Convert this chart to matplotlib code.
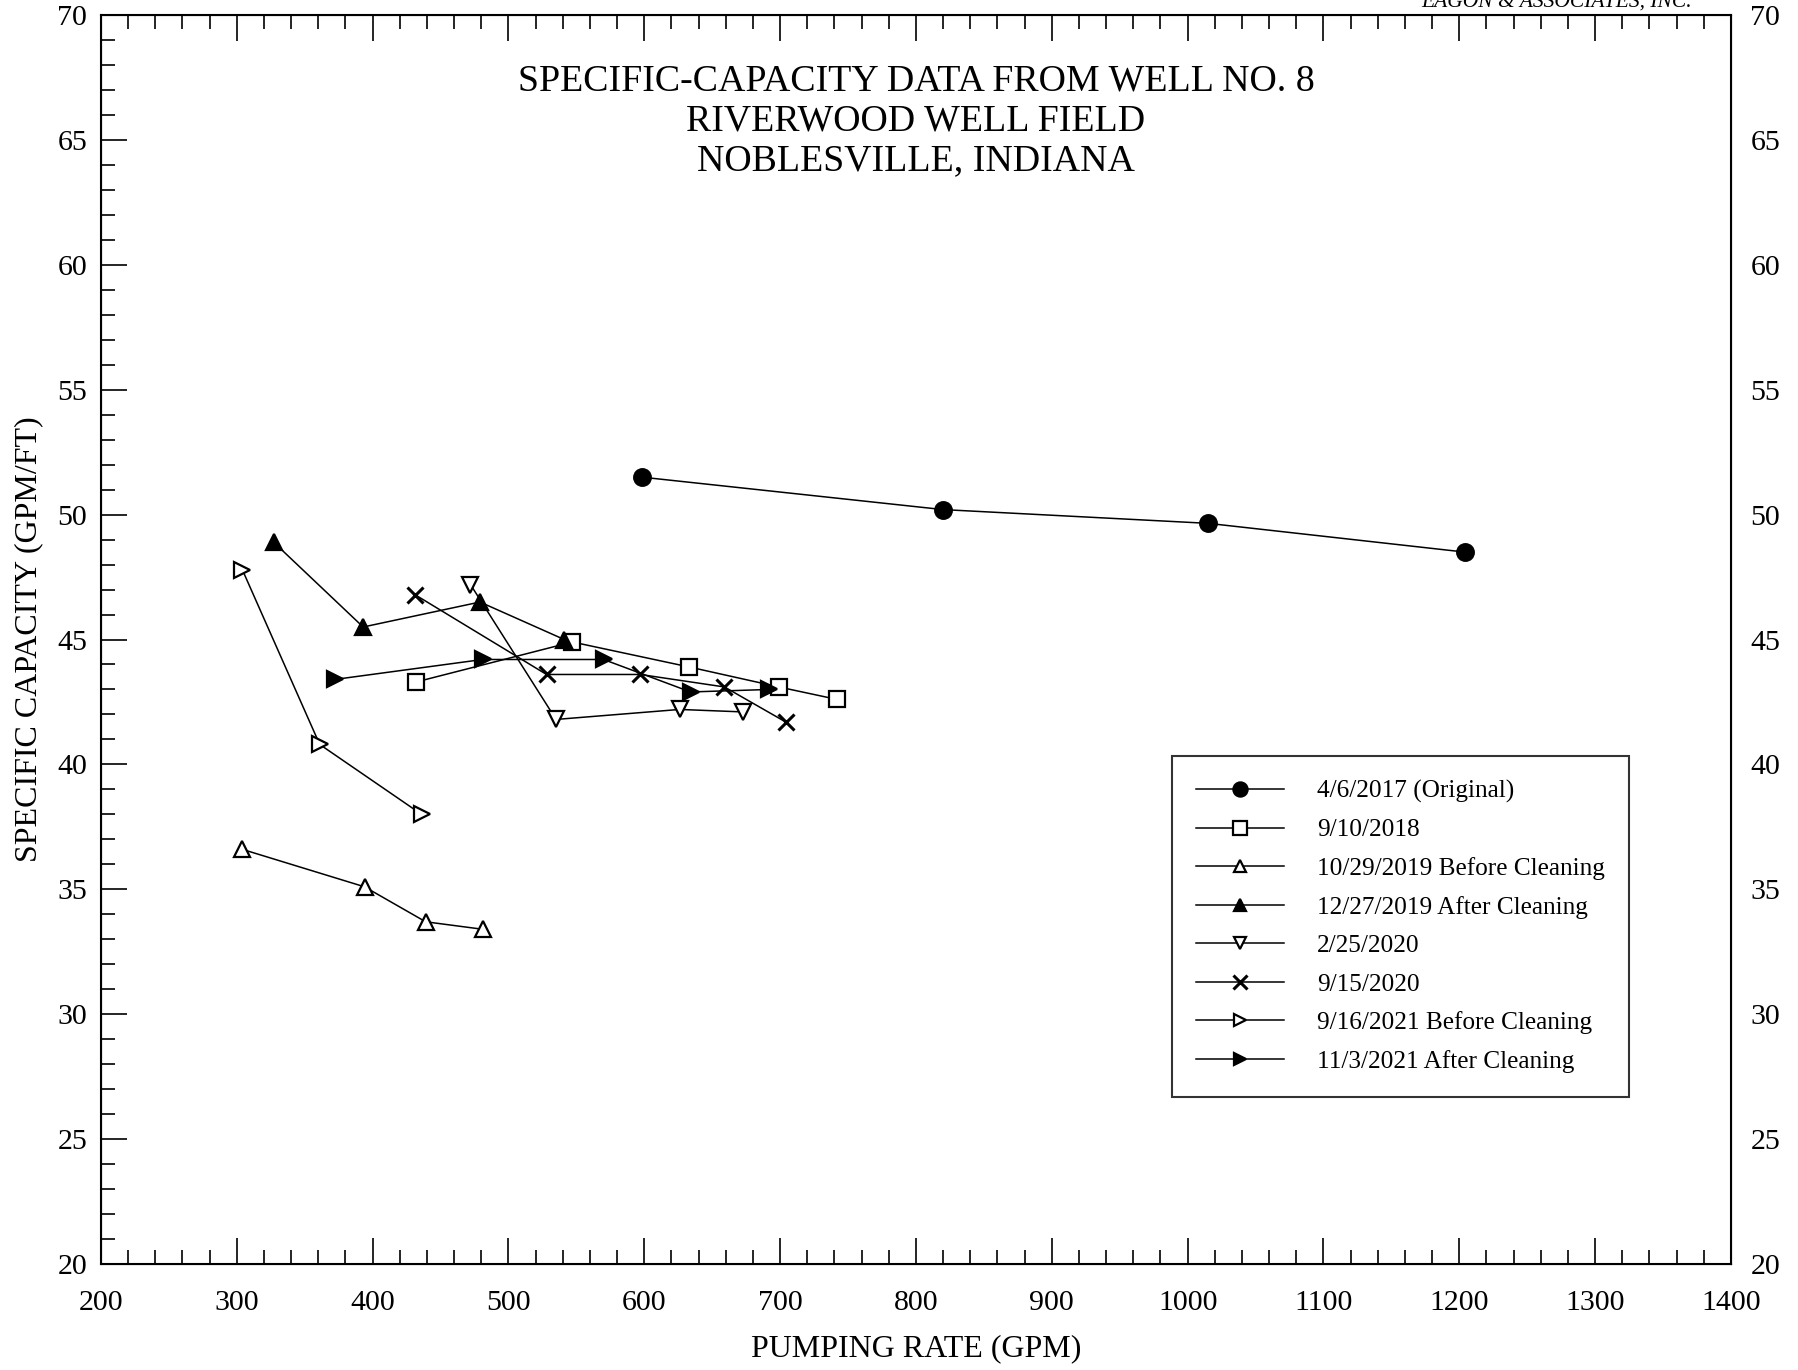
import numpy as np
import matplotlib.pyplot as plt
from matplotlib.ticker import MultipleLocator

plt.rcParams['font.family'] = ['Liberation Serif', 'DejaVu Serif']

# 4/6/2017 (Original)
q_2017 = [598, 820, 1015, 1204]
sc_2017 = [51.5, 50.2, 49.65, 48.5]
# 9/10/2018
q_2018 = [432, 547, 633, 699, 742]
sc_2018 = [43.3, 44.9, 43.9, 43.1, 42.6]
# 10/29/2019 Before Cleaning
q_2019b = [304, 394, 439, 481]
sc_2019b = [36.6, 35.1, 33.7, 33.4]
# 12/27/2019 After Cleaning
q_2019a = [327, 393, 479, 541]
sc_2019a = [48.9, 45.5, 46.5, 45.0]
# 2/25/2020
q_2020a = [472, 535, 626, 673]
sc_2020a = [47.2, 41.8, 42.2, 42.1]
# 9/15/2020
q_2020b = [431, 528, 597, 659, 704]
sc_2020b = [46.8, 43.6, 43.6, 43.1, 41.7]
# 9/16/2021 Before Cleaning
q_2021b = [304, 361, 436]
sc_2021b = [47.8, 40.8, 38.0]
# 11/3/2021 After Cleaning
q_2021a = [372, 481, 570, 634, 692]
sc_2021a = [43.4, 44.2, 44.2, 42.9, 43.0]

series = [
    (q_2017, sc_2017, "4/6/2017 (Original)", "o", "black"),
    (q_2018, sc_2018, "9/10/2018", "s", "white"),
    (q_2019b, sc_2019b, "10/29/2019 Before Cleaning", "^", "white"),
    (q_2019a, sc_2019a, "12/27/2019 After Cleaning", "^", "black"),
    (q_2020a, sc_2020a, "2/25/2020", "v", "white"),
    (q_2020b, sc_2020b, "9/15/2020", "x", "black"),
    (q_2021b, sc_2021b, "9/16/2021 Before Cleaning", ">", "white"),
    (q_2021a, sc_2021a, "11/3/2021 After Cleaning", ">", "black"),
]

fig = plt.figure(figsize=(17.99, 13.70), dpi=100)
ax = fig.add_axes([101 / 1799, 1 - 1264 / 1370, 1630 / 1799, 1249 / 1370])

for q, sc, label, mk, fc in series:
    ms = 12 if mk in ("o", "x", "s") else 11
    ax.plot(q, sc, color="black", linewidth=1.1, marker=mk, markersize=ms,
            markerfacecolor=fc, markeredgecolor="black",
            markeredgewidth=2.2 if mk == "x" else 1.6, label=label)

ax.set_xlim(200, 1400)
ax.set_ylim(20, 70)
ax.xaxis.set_major_locator(MultipleLocator(100))
ax.xaxis.set_minor_locator(MultipleLocator(20))
ax.yaxis.set_major_locator(MultipleLocator(5))
ax.yaxis.set_minor_locator(MultipleLocator(1))
ax.tick_params(which="both", direction="in", top=True, right=True,
               width=1.2, labelsize=21.5)
ax.tick_params(which="major", length=19)
ax.tick_params(which="minor", length=10)
ax.tick_params(axis="x", which="major", pad=19)
ax.tick_params(axis="y", which="major", pad=10)
for s in ax.spines.values():
    s.set_linewidth(1.5)

# right-hand tick labels, a little further from the frame
ax_r = ax.twinx()
ax_r.set_ylim(20, 70)
ax_r.yaxis.set_major_locator(MultipleLocator(5))
ax_r.yaxis.set_minor_locator(MultipleLocator(1))
ax_r.tick_params(which="both", direction="in", length=0, labelsize=21.5, pad=14)

ax.set_xlabel("PUMPING RATE (GPM)", fontsize=23)
ax.xaxis.set_label_coords(0.5, -0.056)
ax.set_ylabel("SPECIFIC CAPACITY (GPM/FT)", fontsize=23, labelpad=10)

ax.text(0.5, 0.961, "SPECIFIC-CAPACITY DATA FROM WELL NO. 8\nRIVERWOOD WELL FIELD\nNOBLESVILLE, INDIANA",
        transform=ax.transAxes, ha="center", va="top", fontsize=27.3, linespacing=1.2)

fig.text(1692 / 1799, 1 - 2 / 1370, "EAGON & ASSOCIATES, INC.", ha="right", va="center",
         fontsize=15.5, style="italic")

leg = ax.legend(loc="upper left", bbox_to_anchor=((1172 - 101) / 1630, (1264 - 756) / 1249),
                borderaxespad=0, fontsize=18.2, frameon=True, fancybox=False,
                borderpad=0.95, labelspacing=0.62, handlelength=3.5, handletextpad=1.3,
                markerscale=0.85)
leg.get_frame().set_edgecolor("black")
leg.get_frame().set_linewidth(1.5)

fig.savefig("out.png", dpi=100)
